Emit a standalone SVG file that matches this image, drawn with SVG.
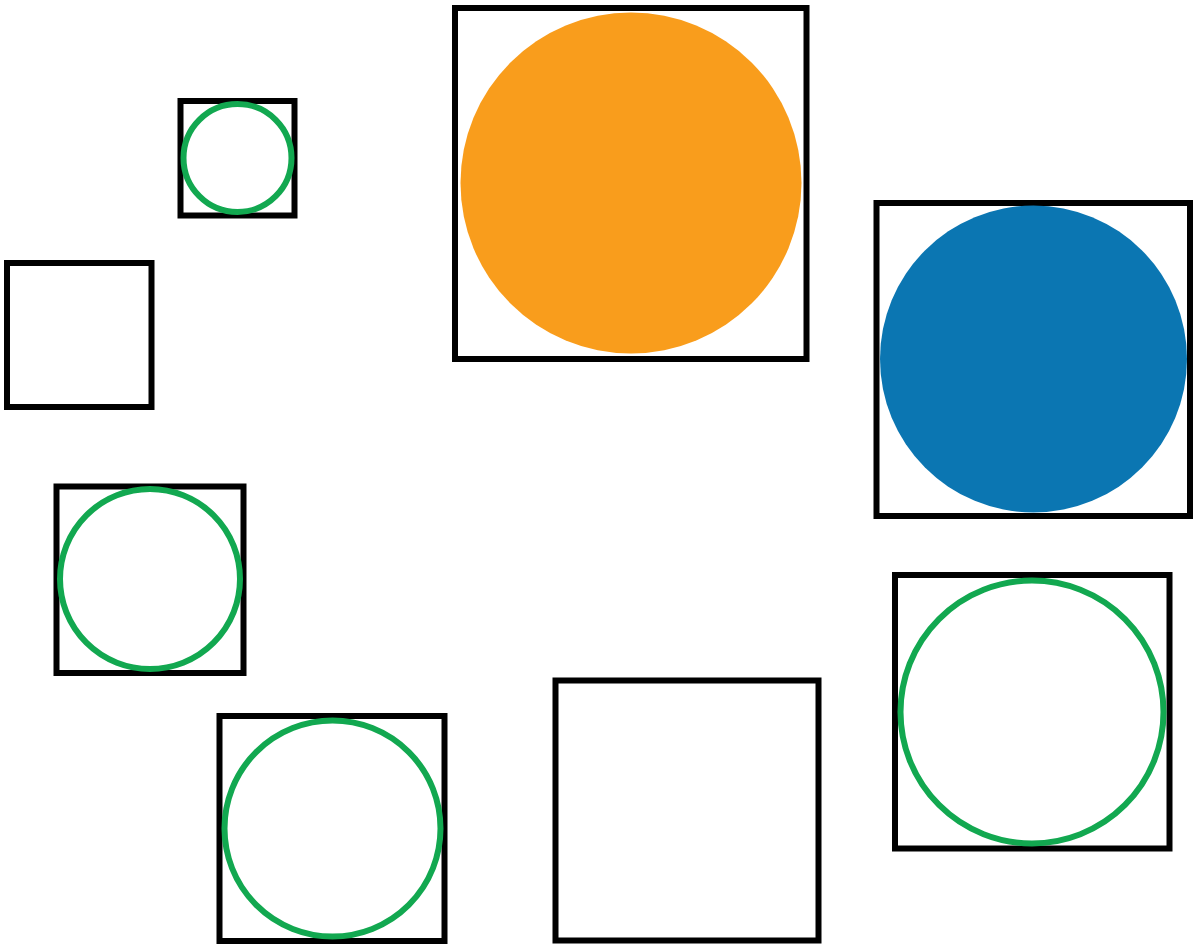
<svg xmlns="http://www.w3.org/2000/svg" width="1198" height="945" viewBox="0 0 1198 945">
<style>
.box{fill:none;stroke:#000;stroke-width:6}
.ring{fill:none;stroke:#12A850;stroke-width:6}
.orange{fill:#F99D1C}
.blue{fill:#0B76B2}
</style>
<rect width="1198" height="945" fill="#fff"/>
<g id="connectors"></g>
<g id="node-small">
<rect class="box" x="180.5" y="101" width="114" height="114.5"/>
<circle class="ring" cx="237.5" cy="158" r="54" stroke-width="5"/>
</g>
<g id="node-empty-left">
<rect class="box" x="7" y="263" width="144.5" height="144"/>
</g>
<g id="node-orange">
<rect class="box" x="455" y="8" width="351.5" height="351"/>
<circle class="orange" cx="631" cy="183" r="170.5"/>
</g>
<g id="node-blue">
<rect class="box" x="876.5" y="203" width="313.5" height="313"/>
<circle class="blue" cx="1033.5" cy="359" r="153.5"/>
</g>
<g id="node-left-ring">
<rect class="box" x="56.5" y="486.5" width="187" height="186.5"/>
<circle class="ring" cx="150" cy="579" r="90"/>
</g>
<g id="node-bottom-ring">
<rect class="box" x="219.5" y="716" width="225" height="225"/>
<circle class="ring" cx="332.5" cy="828.5" r="108"/>
</g>
<g id="node-bottom-empty">
<rect class="box" x="555.5" y="680.5" width="263" height="260"/>
</g>
<g id="node-right-ring">
<rect class="box" x="895" y="575" width="274.5" height="273.5"/>
<circle class="ring" cx="1032" cy="712" r="131.5"/>
</g>
</svg>
